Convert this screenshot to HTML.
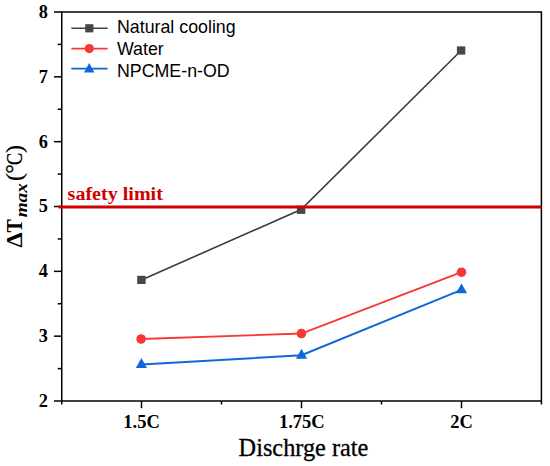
<!DOCTYPE html>
<html>
<head>
<meta charset="utf-8">
<style>
html,body{margin:0;padding:0;background:#fff;}
body{width:550px;height:466px;overflow:hidden;}
svg{display:block;}
.serif{font-family:"Liberation Serif",serif;}
.sans{font-family:"Liberation Sans",sans-serif;}
</style>
</head>
<body>
<svg width="550" height="466" viewBox="0 0 550 466">
<rect x="0" y="0" width="550" height="466" fill="#fff"/>

<!-- data lines -->
<polyline points="141.4,279.9 301.1,209.6 461.1,50.5" fill="none" stroke="#3c3c3c" stroke-width="1.6"/>
<rect x="137.2" y="275.8" width="8.4" height="8.2" fill="#464646"/>
<rect x="296.9" y="205.7" width="8.4" height="8.2" fill="#464646"/>
<rect x="456.9" y="46.4" width="8.4" height="8.2" fill="#464646"/>

<polyline points="141.1,339 301.4,333.5 461.5,272.2" fill="none" stroke="#f93636" stroke-width="1.8"/>
<circle cx="141.1" cy="339" r="4.8" fill="#f93636"/>
<circle cx="301.4" cy="333.5" r="4.8" fill="#f93636"/>
<circle cx="461.5" cy="272.2" r="4.8" fill="#f93636"/>

<polyline points="141.4,364.5 301.5,355.3 461.5,289.9" fill="none" stroke="#1068d8" stroke-width="2"/>
<polygon points="141.4,358.0 147,367.9 135.8,367.9" fill="#1068d8"/>
<polygon points="301.5,348.8 307.1,358.7 295.9,358.7" fill="#1068d8"/>
<polygon points="461.5,283.4 467.1,293.3 455.9,293.3" fill="#1068d8"/>

<!-- frame -->
<rect x="61.75" y="12" width="479.65" height="389" fill="none" stroke="#000" stroke-width="1.5"/>

<!-- y ticks -->
<g stroke="#000" stroke-width="1.5">
<line x1="54" y1="12" x2="61.75" y2="12"/>
<line x1="54" y1="76.83" x2="61.75" y2="76.83"/>
<line x1="54" y1="141.66" x2="61.75" y2="141.66"/>
<line x1="54" y1="206.5" x2="61.75" y2="206.5"/>
<line x1="54" y1="271.34" x2="61.75" y2="271.34"/>
<line x1="54" y1="336.17" x2="61.75" y2="336.17"/>
<line x1="54" y1="401" x2="61.75" y2="401"/>
<line x1="57.7" y1="44.4" x2="61.75" y2="44.4"/>
<line x1="57.7" y1="109.25" x2="61.75" y2="109.25"/>
<line x1="57.7" y1="174.08" x2="61.75" y2="174.08"/>
<line x1="57.7" y1="238.92" x2="61.75" y2="238.92"/>
<line x1="57.7" y1="303.75" x2="61.75" y2="303.75"/>
<line x1="57.7" y1="368.6" x2="61.75" y2="368.6"/>
<!-- x ticks -->
<line x1="141.5" y1="401" x2="141.5" y2="408.2"/>
<line x1="301.5" y1="401" x2="301.5" y2="408.2"/>
<line x1="461.5" y1="401" x2="461.5" y2="408.2"/>
<line x1="61.75" y1="401" x2="61.75" y2="404.5"/>
<line x1="221.5" y1="401" x2="221.5" y2="404.5"/>
<line x1="381.5" y1="401" x2="381.5" y2="404.5"/>
<line x1="541.4" y1="401" x2="541.4" y2="404.5"/>
</g>

<!-- y labels -->
<g class="serif" font-weight="bold" font-size="18.3" text-anchor="end" fill="#000">
<text x="48" y="17.8">8</text>
<text x="48" y="82.6">7</text>
<text x="48" y="147.5">6</text>
<text x="48" y="212.3">5</text>
<text x="48" y="277.1">4</text>
<text x="48" y="342">3</text>
<text x="48" y="406.8">2</text>
</g>

<!-- x labels -->
<g class="serif" font-weight="bold" font-size="18.5" text-anchor="middle" fill="#000">
<text x="141.5" y="427.6">1.5C</text>
<text x="301.8" y="427.6">1.75C</text>
<text x="461.5" y="427.6">2C</text>
</g>

<!-- x title -->
<text class="serif" x="303.5" y="456" font-size="24.3" text-anchor="middle" fill="#000" stroke="#000" stroke-width="0.3">Dischrge rate</text>

<!-- y title -->
<g class="serif" fill="#000">
<text transform="translate(22.0,250) rotate(-90)" font-size="24" font-weight="bold" x="2.4">Δ</text>
<text transform="translate(22.0,250) rotate(-90) scale(0.83,1)" font-size="24" font-weight="bold" x="21">T</text>
<text transform="translate(26.6,250) rotate(-90) scale(1.128,1)" font-size="17" font-weight="bold" font-style="italic" x="29">max</text>
<text transform="translate(22.0,250) rotate(-90)" font-size="24" stroke="#000" stroke-width="0.3" x="69">(</text>
<text transform="translate(22.0,250) rotate(-90)" font-size="24" stroke="#000" stroke-width="0.3" x="76.2">°</text>
<text transform="translate(22.0,250) rotate(-90) scale(0.76,1)" font-size="24" stroke="#000" stroke-width="0.3" x="112">C</text>
<text transform="translate(22.0,250) rotate(-90)" font-size="24" stroke="#000" stroke-width="0.3" x="97">)</text>
</g>

<!-- safety limit -->
<line x1="58.5" y1="206.9" x2="541.4" y2="206.9" stroke="#d00000" stroke-width="3"/>
<text class="serif" transform="translate(67.6,199.8) scale(1.046,1)" font-size="19.2" font-weight="bold" fill="#d00000">safety limit</text>

<!-- legend -->
<g stroke-width="1.6">
<line x1="71.3" y1="28.3" x2="107.6" y2="28.3" stroke="#404040"/>
<line x1="71.3" y1="48.6" x2="107.6" y2="48.6" stroke="#f93636"/>
<line x1="71.3" y1="68.6" x2="107.6" y2="68.6" stroke="#1068d8"/>
</g>
<rect x="85.2" y="24.2" width="8.2" height="8.2" fill="#464646"/>
<circle cx="89.3" cy="48.6" r="4.6" fill="#f93636"/>
<polygon points="89.2,63 94.4,72.6 84,72.6" fill="#1068d8"/>
<g class="sans" font-size="17.8" fill="#000">
<text x="117" y="33">Natural cooling</text>
<text x="117" y="55.3">Water</text>
<text x="117" y="76.8">NPCME-n-OD</text>
</g>
</svg>
</body>
</html>
